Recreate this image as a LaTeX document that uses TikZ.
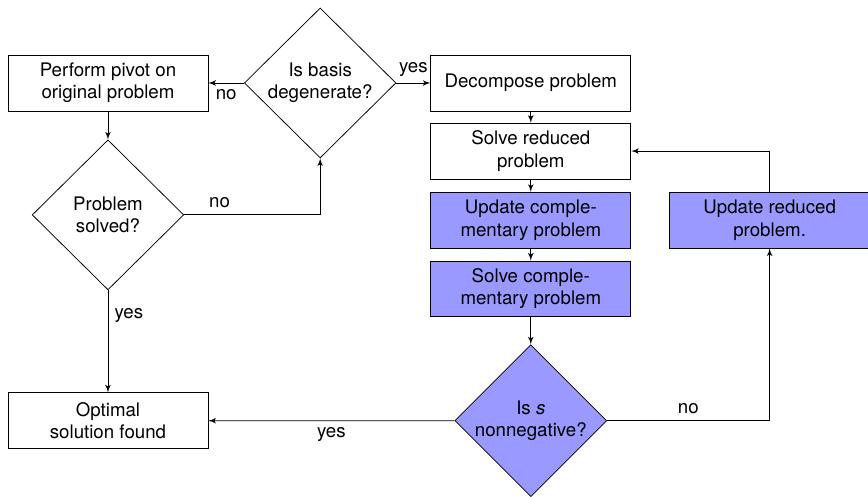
\documentclass[tikz,border=0pt]{standalone}
\usepackage{fontspec}
\setmainfont{TeX Gyre Heros}
\usetikzlibrary{shapes,arrows}
\definecolor{compfill}{RGB}{153,153,255}
\tikzstyle{block} = [draw, fill=white, rectangle, align=center,
    minimum height=1.05cm, minimum width=3.76cm]
\tikzstyle{cblock} = [block, fill=compfill]
\tikzstyle{decision} = [draw, fill=white, diamond, aspect=1, align=center,
    inner sep=0pt, minimum width=2.85cm, minimum height=2.82cm]
\tikzstyle{cdecision} = [decision, fill=compfill]

\begin{document}
\begin{tikzpicture}[node distance=3.99cm,>=latex']
	\useasboundingbox (-2.03,1.56) rectangle (14.29,-7.77);
% Nodes
	\node [block] (pivot) {Perform pivot on\\original problem};
	\node [decision, right of=pivot] (degen) {Is basis\\degenerate?};
	\node [block, right of=degen, node distance = 3.96 cm] (decomp) {Decompose problem};
	\node [block, below of=decomp, node distance = 1.28 cm] (solvered) {Solve reduced\\problem};
	\node [cblock, below of=solvered, node distance = 1.3 cm] (updcomp) {Update comple-\\mentary problem};
	\node [cblock, below of=updcomp, node distance = 1.29 cm] (solvecomp) {Solve comple-\\mentary problem};
	\node [cdecision, below of=solvecomp, node distance = 2.48 cm] (nonneg) {Is \textit{s}\\nonnegative?};
	\node [cblock, right of=updcomp, node distance = 4.49 cm] (updred) {Update reduced\\problem.};
	\node [decision, below of=pivot, node distance = 2.48 cm] (solved) {Problem\\solved?};
	\node [block, below of=solved, node distance = 3.87 cm] (optimal) {Optimal\\solution found};
% Connections
	\draw [->] (degen) -- node[below] {no} (pivot);
	\draw [->] (degen) -- node[above] {yes} (decomp);
	\draw [->] (pivot) -- (solved);
	\draw [->] (solved) -| node[pos=0.13, above] {no} (degen);
	\draw [->] (solved) -- node[pos=0.25, right] {yes} (optimal);
	\draw [->] (decomp) -- (solvered);
	\draw [->] (solvered) -- (updcomp);
	\draw [->] (updcomp) -- (solvecomp);
	\draw [->] (solvecomp) -- (nonneg);
	\draw [->] (nonneg) -- node[below] {yes} (optimal);
	\draw [->] (nonneg) -| node[pos=0.25, above] {no} (updred);
	\draw [->] (updred) |- (solvered);
\end{tikzpicture}
\end{document}
